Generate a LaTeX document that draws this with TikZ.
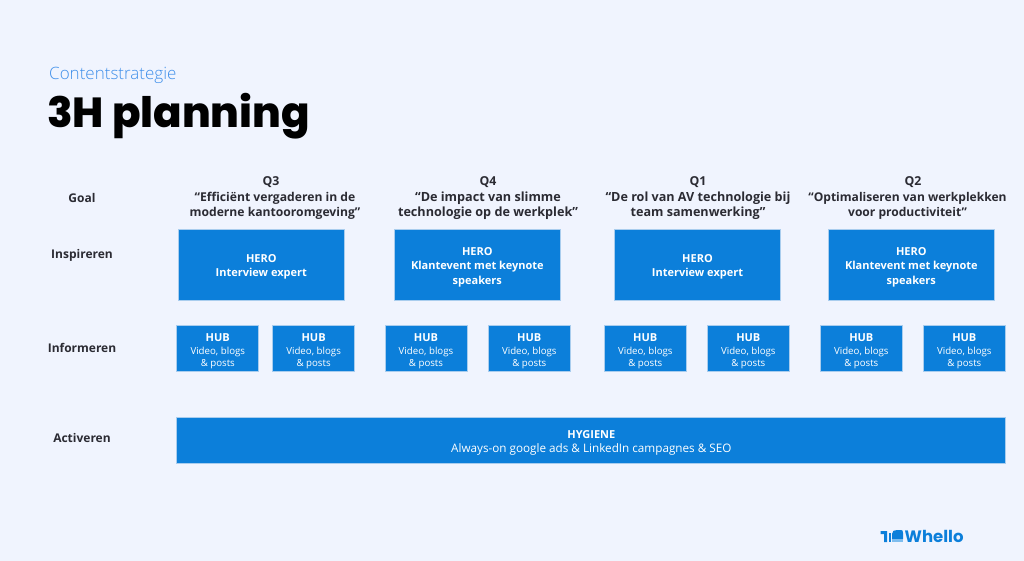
\documentclass[tikz,border=0pt]{standalone}
\usepackage{fontspec}
\setmainfont{Open Sans}
\newfontfamily\pop{Poppins ExtraBold}
\newfontfamily\popb{Poppins}
\newfontfamily\lightf{Open Sans Light}
\definecolor{bg}{HTML}{F0F4FE}
\definecolor{bl}{HTML}{0C7FDA}
\definecolor{edge}{HTML}{A9CDEE}
\definecolor{soft}{HTML}{7FBDEE}
\definecolor{sub}{HTML}{3F8FEA}
\definecolor{ink}{HTML}{2B2B33}
\tikzset{
 box/.style={draw=edge,line width=0.8pt,fill=bl,text=white,align=center,inner sep=0pt,font=\fontsize{11}{14.5}\selectfont\bfseries},
 herobox/.style={box,minimum width=166.5pt,minimum height=71pt},
 hubbox/.style={box,minimum width=82pt,minimum height=46.5pt},
 rowlab/.style={text=ink,font=\fontsize{12}{15}\selectfont\bfseries,anchor=center},
 qlab/.style={text=ink,align=center,font=\fontsize{#1}{15.4}\selectfont\bfseries,anchor=center},
 qlab/.default=12.3,
}
\newcommand{\hubsmall}{\fontsize{9.7}{12}\selectfont\mdseries}
\newcommand{\hubtxt}{\rule{0pt}{14pt}HUB\\[-1.5pt]\hubsmall Video, blogs\\[-2.5pt]\hubsmall \& posts}
\newcommand{\herotop}{\rule{0pt}{11.5pt}HERO}
\begin{document}
\begin{tikzpicture}[x=1pt,y=-1pt]
\path[fill=bg,use as bounding box] (0,0) rectangle (1024,561);
\node[anchor=west,inner sep=0pt,text=sub,font=\lightf\fontsize{17}{18}\selectfont] (sub) at (49,75) {Contentstrategie};
\node[anchor=west,inner sep=0pt,text=black,font=\pop\fontsize{42}{44}\selectfont] (title) at (47,116.5) {3H planning};
\node[rowlab] (goal) at (82,198) {Goal};
\node[rowlab] (insp) at (82,255) {Inspireren};
\node[rowlab] (info) at (82,347.5) {Informeren};
\node[rowlab] (act) at (82,438) {Activeren};
\node[qlab] (q3h) at (271,182) {Q3};
\node[qlab=12.15] (q3) at (275,206) {“Efficiënt vergaderen in de\\moderne kantooromgeving”};
\node[qlab] (q4h) at (488,182) {Q4};
\node[qlab=12.65] (q4) at (488,206) {“De impact van slimme\\technologie op de werkplek”};
\node[qlab] (q1h) at (698,182) {Q1};
\node[qlab=12.6] (q1) at (698,206) {“De rol van AV technologie bij\\team samenwerking”};
\node[qlab] (q2h) at (913,182) {Q2};
\node[qlab=12.05] (q2) at (907.5,206) {“Optimaliseren van werkplekken\\voor productiviteit”};
\node[herobox] (h1) at (261.3,265.2) {\herotop\\Interview expert};
\node[herobox] (h2) at (477.3,265.2) {\herotop\\Klantevent met keynote\\speakers};
\node[herobox] (h3) at (697.5,265.2) {\herotop\\Interview expert};
\node[herobox] (h4) at (911.3,265.2) {\herotop\\Klantevent met keynote\\speakers};
\node[hubbox] (huba) at (217.8,348.6) {\hubtxt};
\node[hubbox] (hubb) at (313.6,348.6) {\hubtxt};
\node[hubbox] (hubc) at (426,348.6) {\hubtxt};
\node[hubbox] (hubd) at (529.3,348.6) {\hubtxt};
\node[hubbox] (hube) at (645.3,348.6) {\hubtxt};
\node[hubbox] (hubf) at (748.3,348.6) {\hubtxt};
\node[hubbox] (hubg) at (861.3,348.6) {\hubtxt};
\node[hubbox] (hubi) at (964.3,348.6) {\hubtxt};
\node[box,minimum width=829pt,minimum height=46pt] (hyg) at (591.3,440.7) {\rule{0pt}{12pt}HYGIENE\\[0pt]\fontsize{11.7}{14.5}\selectfont\mdseries Always-on google ads \& LinkedIn campagnes \& SEO};
% logo
\fill[bl] (880.5,531) -- (887,531) -- (887,542) -- (884,542) -- (884,534) -- (880.5,534) -- cycle;
\fill[bl] (888.5,533) -- (891,533) -- (891,542) -- (888.5,542) -- cycle;
\fill[bl] (892,534) .. controls (892,531) and (894,530) .. (897,530) -- (901,530) .. controls (902.5,530) and (903,531) .. (903,533) -- (903,539) -- (892,539) -- cycle;
\fill[soft] (892,539) -- (903,539) -- (903,542) -- (892,542) -- cycle;
\node[anchor=west,inner sep=0pt,text=bl,font=\popb\fontsize{16.5}{18}\selectfont\bfseries] (logo) at (904.5,536) {Whello};
\end{tikzpicture}
\end{document}
